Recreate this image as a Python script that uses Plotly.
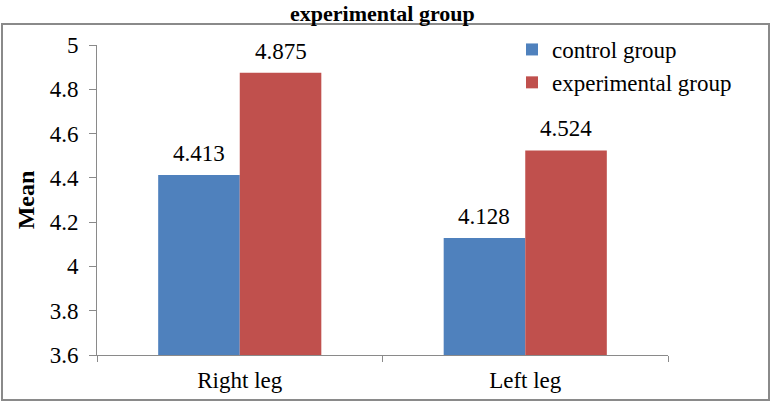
import plotly.graph_objects as go

categories = ["Right leg", "Left leg"]
control_group = [4.413, 4.128]
experimental_group = [4.875, 4.524]
y_ticks = [3.6, 3.8, 4.0, 4.2, 4.4, 4.6, 4.8, 5.0]
y_tick_labels = ["3.6", "3.8", "4", "4.2", "4.4", "4.6", "4.8", "5"]
series_names = ["control group", "experimental group"]
colors = ["#4F81BD", "#C0504D"]
title_text = "experimental group"
y_title = "Mean"

FONT = "Tinos"
BOLD_FONT = "Liberation Serif"
W, H = 771, 410
L, R, T, B = 97, 103, 45, 55
pw, ph = W - L - R, H - T - B

def px_x(p):
    return (p - L) / pw

def px_y(p):
    return (H - B - p) / ph

fig = go.Figure()
for name, vals, col in zip(series_names, [control_group, experimental_group], colors):
    fig.add_trace(go.Bar(
        x=categories, y=vals, name=name, marker=dict(color=col, line=dict(width=0)),
        legendgroup=name,
    ))

bargap = 0.75 / 1.75
bw = (1 - bargap) / 2
for si, vals in enumerate([control_group, experimental_group]):
    off = -bw / 2 if si == 0 else bw / 2
    for ci, v in enumerate(vals):
        fig.add_annotation(
            x=ci + off, y=v, xref="x", yref="y", text=f"{v:.3f}",
            showarrow=False, yanchor="bottom", yshift=7,
            font=dict(family=FONT, size=23, color="black"),
        )

fig.add_annotation(
    x=0.5, xref="paper", y=px_y(0), yref="paper", text=f"<b>{title_text}</b>",
    showarrow=False, yanchor="top", xanchor="center", borderpad=0,
    font=dict(family=BOLD_FONT, size=22, color="black"),
)

fig.add_shape(
    type="rect", xref="paper", yref="paper",
    x0=px_x(2), x1=px_x(769), y0=px_y(400), y1=px_y(24),
    line=dict(color="#8a8a8a", width=2), layer="below",
)

fig.update_layout(
    width=W, height=H,
    margin=dict(l=L, r=R, t=T, b=B, pad=0, autoexpand=False),
    paper_bgcolor="white", plot_bgcolor="white",
    barmode="group", bargap=bargap, bargroupgap=0,
    font=dict(family=FONT, size=22, color="black"),
    showlegend=True,
    legend=dict(
        x=px_x(512), y=px_y(28), xanchor="left", yanchor="top",
        bgcolor="rgba(0,0,0,0)", font=dict(family=FONT, size=23, color="black"),
        traceorder="grouped", tracegroupgap=0, itemwidth=30,
    ),
    xaxis=dict(
        type="category", showline=True, linecolor="#8a8a8a", linewidth=1,
        ticks="outside", ticklen=6, tickcolor="#8a8a8a", tickson="boundaries",
        showgrid=False, tickfont=dict(family=FONT, size=23, color="black"),
        ticklabelstandoff=4, fixedrange=True,
    ),
    yaxis=dict(
        range=[3.6, 5.0], tickvals=y_ticks, ticktext=y_tick_labels,
        showline=True, linecolor="#8a8a8a", linewidth=1,
        ticks="outside", ticklen=7, tickcolor="#8a8a8a", showgrid=False,
        zeroline=False, tickfont=dict(family=FONT, size=23, color="black"),
        ticklabelstandoff=6,
        title=dict(text=f"<b>{y_title}</b>", font=dict(family=BOLD_FONT, size=24, color="black"), standoff=8),
        fixedrange=True,
    ),
)

fig.write_html("out.html")
